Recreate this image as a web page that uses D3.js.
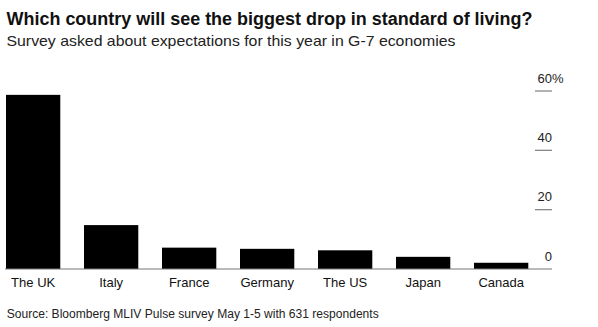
<!DOCTYPE html>
<html><head><meta charset="utf-8">
<script src="https://cdn.jsdelivr.net/npm/d3@7"></script>
<style>body{margin:0;background:#fff}svg{display:block}text{font-family:"Liberation Sans",Arial,sans-serif}</style>
</head><body><svg id="c" width="598" height="327"></svg>
<script>
const categories = ["The UK","Italy","France","Germany","The US","Japan","Canada"];
const values = [58.7,14.8,7.2,6.8,6.3,4.1,2.1];
const yTicks = [0,20,40,60];
const title = "Which country will see the biggest drop in standard of living?";
const subtitle = "Survey asked about expectations for this year in G-7 economies";
const source = "Source: Bloomberg MLIV Pulse survey May 1-5 with 631 respondents";

const svg = d3.select("#c");
const x = d3.scaleBand().domain(categories).range([6,528.3]).paddingInner(0.304).paddingOuter(0);
const y = d3.scaleLinear().domain([0,60]).range([269,91]);

svg.append("text").attr("x",6.5).attr("y",25).attr("font-size",18).attr("font-weight","bold")
  .attr("fill","#111").attr("textLength",526).attr("lengthAdjust","spacingAndGlyphs").text(title);
svg.append("text").attr("x",6.5).attr("y",46).attr("font-size",15)
  .attr("fill","#222").attr("textLength",449).attr("lengthAdjust","spacingAndGlyphs").text(subtitle);
svg.append("text").attr("x",6.7).attr("y",317.7).attr("font-size",12)
  .attr("fill","#222").attr("textLength",372).attr("lengthAdjust","spacingAndGlyphs").text(source);

svg.append("g").selectAll("rect").data(values).join("rect")
  .attr("x",(d,i)=>x(categories[i])).attr("width",x.bandwidth())
  .attr("y",d=>y(d)).attr("height",d=>y(0)-y(d)).attr("fill","#000");

// y axis
const yg = svg.append("g");
yg.selectAll("line").data(yTicks.filter(d=>d>0)).join("line")
  .attr("x1",535).attr("x2",552).attr("y1",d=>y(d)).attr("y2",d=>y(d))
  .attr("stroke","#888").attr("stroke-width",1.3);
yg.selectAll("text.num").data(yTicks).join("text").attr("class","num")
  .attr("x",552).attr("y",d=>y(d)-8.5).attr("text-anchor","end").attr("font-size",13).attr("fill","#222")
  .text(d=>d);
yg.append("text").attr("x",552).attr("y",y(60)-8.5).attr("font-size",13).attr("fill","#222").text("%");

// x axis
const xg = svg.append("g").attr("transform","translate(0,269)")
  .call(d3.axisBottom(x).tickSize(0).tickPadding(6));
xg.select(".domain").remove();
xg.selectAll("text").attr("font-size",13).attr("fill","#111").attr("font-family","Liberation Sans, Arial, sans-serif").attr("dy","0").attr("y",17.7);
svg.append("line").attr("x1",5).attr("x2",552).attr("y1",269).attr("y2",269).attr("stroke","#777").attr("stroke-width",1.2);
</script></body></html>
